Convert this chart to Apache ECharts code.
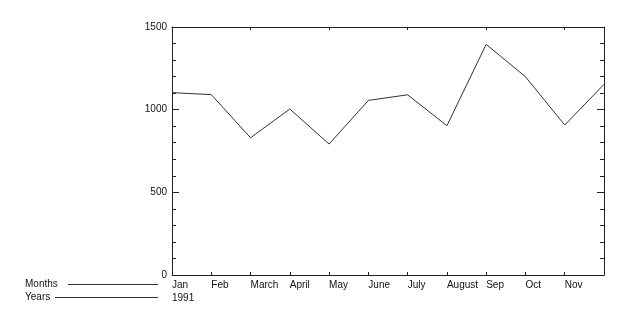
<!DOCTYPE html>
<html>
<head>
<meta charset="utf-8">
<script src="https://cdn.jsdelivr.net/npm/echarts@6/dist/echarts.min.js"></script>
<style>html,body{margin:0;padding:0;background:#fff}#c{width:630px;height:326px}</style>
</head>
<body>
<div id="c"></div>
<script>
var months = ['Jan','Feb','March','April','May','June','July','August','Sep','Oct','Nov','Dec'];
var monthLabels = ['Jan','Feb','March','April','May','June','July','August','Sep','Oct','Nov',''];
var yearLabels = ['1991','','','','','','','','','','',''];
var values = [1103, 1091, 830, 1004, 792, 1056, 1090, 903, 1395, 1199, 907, 1153];
var yTicks = [0, 500, 1000, 1500];

var FONT = 'Liberation Sans, Arial, sans-serif';
var INK = '#222';
var chart = echarts.init(document.getElementById('c'), null, {renderer: 'canvas'});
var labelMap = {};
months.forEach(function (m, i) { labelMap[m] = monthLabels[i]; });
var yearMap = {};
months.forEach(function (m, i) { yearMap[m] = yearLabels[i]; });

chart.setOption({
  animation: false,
  backgroundColor: '#fff',
  grid: {left: 172, right: 26, top: 27, bottom: 51, show: false},
  xAxis: [
    {
      type: 'category', data: months, boundaryGap: false, position: 'bottom',
      axisLine: {onZero: false, lineStyle: {color: INK, width: 1}},
      axisTick: {inside: false, length: -3, lineStyle: {color: INK}},
      axisLabel: {align: 'left', margin: 5, fontSize: 10, fontFamily: FONT, color: '#111',
        interval: 0, formatter: function (v) { return labelMap[v]; }},
      splitLine: {show: false}
    },
    {
      type: 'category', data: months, boundaryGap: false, position: 'top',
      axisLine: {onZero: false, lineStyle: {color: INK, width: 1}},
      axisTick: {inside: false, length: -3, lineStyle: {color: INK}},
      axisLabel: {show: false}, splitLine: {show: false}
    },
    {
      type: 'category', data: months, boundaryGap: false, position: 'bottom', offset: 13,
      axisLine: {show: false, onZero: false}, axisTick: {show: false},
      axisLabel: {align: 'left', margin: 5, fontSize: 10, fontFamily: FONT, color: '#111',
        interval: 0, formatter: function (v) { return yearMap[v]; }},
      splitLine: {show: false}
    }
  ],
  yAxis: [
    {
      type: 'value', min: yTicks[0], max: yTicks[yTicks.length - 1], interval: 500, position: 'left',
      axisLine: {show: true, onZero: false, lineStyle: {color: INK, width: 1}},
      axisTick: {show: true, inside: false, length: -7, lineStyle: {color: INK}},
      minorTick: {show: true, splitNumber: 5, length: -4, lineStyle: {color: INK}},
      axisLabel: {margin: 5, fontSize: 10, fontFamily: FONT, color: '#111',
        formatter: function (v) { return String(v); }},
      splitLine: {show: false}
    },
    {
      type: 'value', min: yTicks[0], max: yTicks[yTicks.length - 1], interval: 500, position: 'right',
      axisLine: {show: true, onZero: false, lineStyle: {color: INK, width: 1}},
      axisTick: {show: true, inside: false, length: -7, lineStyle: {color: INK}},
      minorTick: {show: true, splitNumber: 5, length: -4, lineStyle: {color: INK}},
      axisLabel: {show: false},
      splitLine: {show: false}
    }
  ],
  series: [{
    type: 'line', data: values, xAxisIndex: 0, yAxisIndex: 0,
    symbol: 'none', lineStyle: {color: '#333', width: 1}
  }],
  graphic: [
    {type: 'text', left: 25, top: 279, style: {text: 'Months', fontSize: 10, fontFamily: FONT, fill: '#111'}},
    {type: 'line', shape: {x1: 68, y1: 284.5, x2: 158, y2: 284.5}, style: {stroke: '#333', lineWidth: 1}},
    {type: 'text', left: 25, top: 292, style: {text: 'Years', fontSize: 10, fontFamily: FONT, fill: '#111'}},
    {type: 'line', shape: {x1: 55, y1: 297.5, x2: 158, y2: 297.5}, style: {stroke: '#333', lineWidth: 1}}
  ]
});
</script>
</body>
</html>
